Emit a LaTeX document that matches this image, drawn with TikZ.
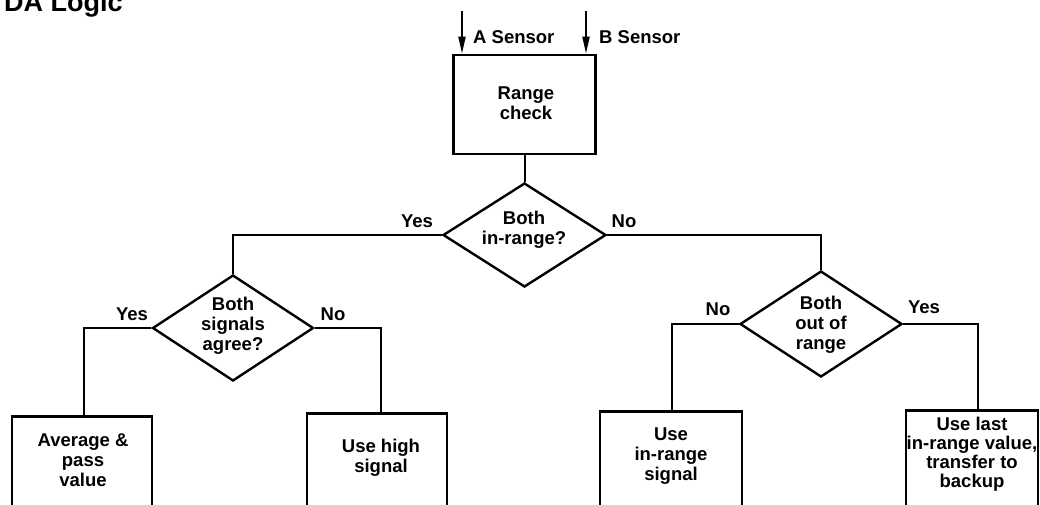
\documentclass[tikz,border=0pt]{standalone}
\usepackage{fontspec}
\setmainfont{Liberation Sans}
\usetikzlibrary{arrows.meta,shapes.geometric}
\tikzset{
  boxshape/.style={draw, line width=2.6pt, rectangle, inner sep=0pt},
  diashape/.style={draw, line width=2.4pt, diamond, inner sep=0pt},
  txt/.style={align=center, inner sep=0pt, font=\fontsize{18.5}{20}\selectfont\bfseries},
  lbl/.style={inner sep=0pt, anchor=base, font=\fontsize{18.5}{20}\selectfont\bfseries},
  conn/.style={line width=2pt},
  sensorarrow/.style={line width=2pt, -{Triangle[length=17pt,width=7pt]}}
}
\begin{document}
\begin{tikzpicture}[x=1pt,y=-1pt]
\useasboundingbox (0,0) rectangle (1040,504);
\clip (0,0) rectangle (1040,504);
% title (cut off at the top, as in the reference)
\node[inner sep=0pt, anchor=base west, font=\fontsize{27}{30}\selectfont\bfseries] (title) at (4,11) {DA Logic};
% range check
\node[boxshape, minimum width=142pt, minimum height=99pt] (rc) at (524.5,104.5) {};
\node[txt] (rct) at (526,103) {Range\\check};
\coordinate (sA) at (462,11);
\coordinate (sB) at (586,11);
\draw[sensorarrow] (sA) -- (sA |- rc.north);
\draw[sensorarrow] (sB) -- (sB |- rc.north);
\node[lbl, anchor=base west] (la) at (473,43) {A Sensor};
\node[lbl, anchor=base west] (lb) at (599,43) {B Sensor};
% diamonds
\node[diashape, minimum width=163pt, minimum height=104pt] (d1) at (524.5,235) {};
\node[txt] (d1t) at (524,230) {Both\\in-range?};
\node[diashape, minimum width=161pt, minimum height=106pt] (d2) at (233,328) {};
\node[txt] (d2t) at (233,325.5) {Both\\signals\\agree?};
\node[diashape, minimum width=162pt, minimum height=106pt] (d3) at (821,324) {};
\node[txt] (d3t) at (821,324.5) {Both\\out of\\range};
% result boxes (cut off at the bottom)
\node[boxshape, anchor=north, minimum width=140pt, minimum height=110pt] (b1) at (82,415) {};
\node[txt] (b1t) at (83,460) {Average \&\\pass\\value};
\node[boxshape, anchor=north, minimum width=140pt, minimum height=110pt] (b2) at (377,412) {};
\node[txt] (b2t) at (381,457.5) {Use high\\signal};
\node[boxshape, anchor=north, minimum width=142pt, minimum height=110pt] (b3) at (671,410) {};
\node[txt] (b3t) at (671,456.5) {Use\\in-range\\signal};
\node[boxshape, anchor=north, minimum width=132pt, minimum height=110pt] (b4) at (972,409) {};
\node[txt, font=\fontsize{18.5}{19}\selectfont\bfseries] (b4t) at (972,454) {Use last\\in-range value,\\transfer to\\backup};
% connectors
\draw[conn] (rc.south) -- (d1.north);
\draw[conn] (d1.west) -| (d2.north);
\draw[conn] (d1.east) -| (d3.north);
\draw[conn] (d2.west) -| ([xshift=2pt]b1.north);
\draw[conn] (d2.east) -| ([xshift=4pt]b2.north);
\draw[conn] (d3.west) -| ([xshift=1pt]b3.north);
\draw[conn] (d3.east) -| ([xshift=6pt]b4.north);
% branch labels
\node[lbl] (y1) at (417,227) {Yes};
\node[lbl] (n1) at (624,227) {No};
\node[lbl] (y2) at (132,320) {Yes};
\node[lbl] (n2) at (333,320) {No};
\node[lbl] (n3) at (718,315) {No};
\node[lbl] (y3) at (924,313) {Yes};
\end{tikzpicture}
\end{document}
